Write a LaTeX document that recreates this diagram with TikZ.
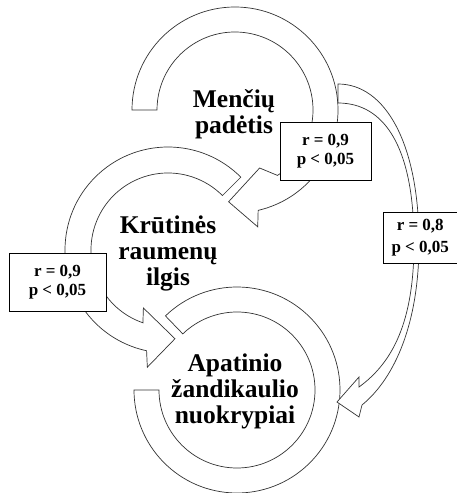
\documentclass[tikz,border=0pt]{standalone}
\usepackage{fontspec}
\setmainfont{Liberation Serif}
\usepackage{tikz}
\tikzset{ring/.style={draw=black!80, fill=white, line width=0.7pt, line join=miter}}
\tikzset{stat/.style={rectangle, draw=black, fill=white, line width=0.7pt, inner sep=0pt,
      minimum width=91pt, minimum height=58pt, align=center,
      font=\bfseries\fontsize{17}{19.5}\selectfont}}
\tikzset{factor/.style={align=center, inner sep=0pt,
      font=\bfseries\fontsize{25.5}{26}\selectfont}}

\begin{document}
\begin{tikzpicture}[x=1pt,y=1pt]
		\useasboundingbox (0,0) rectangle (456,493);
		\coordinate (mc) at (235,383);
		\coordinate (kr) at (168,243);
		\coordinate (ap) at (237,103);
		\draw[ring, shift={(mc)}] (180:103) arc[start angle=180, end angle=-77, radius=103]
			-- (-79:119) -- (-94:92) -- (-67:63) -- (-57:78)
			arc[start angle=-57, end angle=180, radius=78] -- cycle;
		\draw[ring, shift={(kr)}] (45:103) arc[start angle=45, end angle=258, radius=103]
			-- (260:119) -- (274.5:89) -- (247:63) -- (251:77)
			arc[start angle=251, end angle=45, radius=77] -- cycle;
		\draw[ring, shift={(ap)}] (134:103) arc[start angle=134, end angle=-180, radius=103]
			-- (180:78) arc[start angle=-180, end angle=134, radius=78] -- cycle;
		\draw[ring] (338,409) .. controls (385,409) and (419,350) .. (419,250)
			.. controls (419,170) and (395,115) .. (362,88)
			-- (359,76) -- (337,91) -- (359,116) -- (359,106)
			.. controls (392,130) and (414,170) .. (414,250)
			.. controls (414,345) and (385,390) .. (338,390) -- cycle;
		\node[stat] (r1) at (325.5,342) {r = 0,9\\p < 0,05};
		\node[stat, minimum width=97pt] (r2) at (57.5,211) {r = 0,9\\p < 0,05};
		\node[stat, minimum width=74.5pt, minimum height=51pt,
			font=\bfseries\fontsize{17}{22}\selectfont] (r3) at (420.25,255.5) {r = 0,8\\p < 0,05};
		\node[factor] (mencius) at (234,378.5) {Menčių\\padėtis};
		\node[factor] (krutines) at (168,239.5) {Krūtinės\\raumenų\\ilgis};
		\node[factor] (apatinio) at (235,101.5) {Apatinio\\žandikaulio\\nuokrypiai};
\end{tikzpicture}
\end{document}
